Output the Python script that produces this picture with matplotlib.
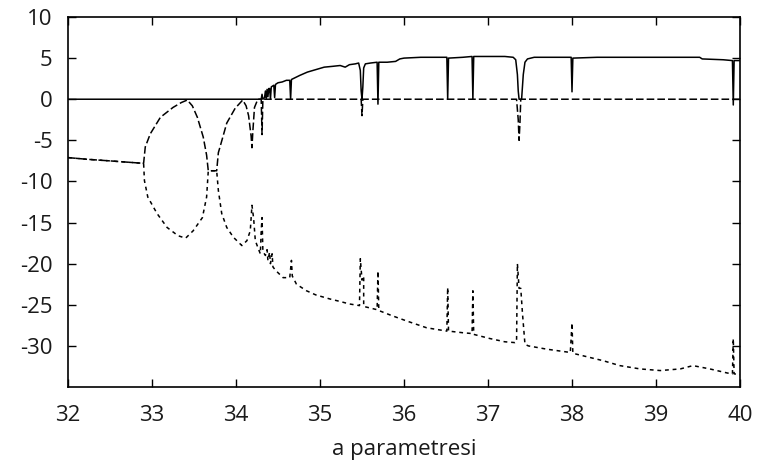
import matplotlib
matplotlib.use("Agg")
import matplotlib.pyplot as plt

plt.rcParams['font.family'] = ['Open Sans', 'DejaVu Sans']
plt.rcParams['axes.unicode_minus'] = False

# Lyapunov exponent 1 (solid)
s1_x = [32.0, 34.30, 34.31, 34.32, 34.34, 34.35, 34.36, 34.37, 34.38, 34.39, 34.40, 34.41, 34.42,
        34.45, 34.46, 34.47, 34.50, 34.55, 34.60, 34.64, 34.65, 34.66, 34.70, 34.76, 34.85, 34.95,
        35.05, 35.15, 35.24, 35.30, 35.35, 35.42, 35.46, 35.48, 35.49, 35.50, 35.51, 35.52, 35.54,
        35.60, 35.68, 35.69, 35.70, 35.80, 35.90, 35.95, 36.00, 36.20, 36.51, 36.52, 36.53, 36.70,
        36.81, 36.82, 36.83, 37.00, 37.20, 37.30, 37.33, 37.35, 37.36, 37.37, 37.40, 37.42, 37.44,
        37.47, 37.55, 37.80, 37.99, 38.00, 38.01, 38.30, 38.70, 39.00, 39.30, 39.52, 39.55, 39.80,
        39.91, 39.92, 39.93, 40.00]
s1_y = [0.0, 0.0, 0.6, 0.0, 0.2, 1.0, 0.1, 1.2, 0.3, 1.3, 1.3, 0.0, 1.5,
        1.7, 0.2, 1.8, 2.0, 2.1, 2.3, 2.3, 0.0, 2.4, 2.6, 2.9, 3.3, 3.6,
        3.9, 4.0, 4.1, 3.9, 4.2, 4.3, 4.4, 3.5, 1.0, 0.0, 1.5, 3.8, 4.3,
        4.4, 4.5, -0.6, 4.5, 4.5, 4.6, 4.9, 5.0, 5.1, 5.1, 0.0, 5.0, 5.1,
        5.2, 0.0, 5.2, 5.2, 5.2, 5.1, 4.8, 3.0, 1.0, 0.0, 0.0, 3.0, 4.5,
        4.9, 5.1, 5.1, 5.1, 0.9, 5.0, 5.1, 5.1, 5.1, 5.1, 5.1, 4.9, 4.8,
        4.7, -0.7, 4.7, 4.7]

# Lyapunov exponent 2 (dashed)
s2_x = [32.0, 32.22, 32.5, 32.9, 32.92, 32.98, 33.1, 33.25, 33.35, 33.42, 33.48, 33.54, 33.61,
        33.65, 33.67, 33.77, 33.79, 33.81, 33.89, 33.99, 34.08, 34.12, 34.15, 34.18, 34.19, 34.20,
        34.22, 34.26, 34.30, 34.31, 34.32, 35.49, 35.50, 35.51, 37.34, 37.36, 37.37, 37.38, 37.39,
        40.0]
s2_y = [-7.1, -7.3, -7.5, -7.8, -5.8, -4.2, -2.2, -1.0, -0.4, -0.1, -0.8, -2.2, -4.6,
        -6.8, -8.7, -8.7, -6.5, -5.8, -2.9, -1.1, -0.1, -0.8, -2.0, -4.5, -5.9, -4.0,
        -1.0, 0.0, 0.0, -4.3, 0.0, 0.0, -2.0, 0.0, 0.0, -2.5, -5.0, -3.0, 0.0,
        0.0]

# Lyapunov exponent 3 (dotted)
s3_x = [32.0, 32.22, 32.5, 32.9, 32.91, 32.95, 33.06, 33.18, 33.31, 33.40, 33.49, 33.60, 33.65,
        33.67, 33.77, 33.79, 33.83, 33.89, 33.97, 34.07, 34.13, 34.17, 34.19, 34.21, 34.23, 34.27,
        34.29, 34.30, 34.31, 34.32, 34.35, 34.37, 34.38, 34.40, 34.41, 34.43, 34.44, 34.47, 34.52,
        34.56, 34.64, 34.66, 34.67, 34.72, 34.84, 34.95, 35.12, 35.24, 35.35, 35.47, 35.48, 35.50,
        35.52, 35.52, 35.60, 35.68, 35.69, 35.70, 35.85, 36.04, 36.27, 36.51, 36.52, 36.53, 36.70,
        36.81, 36.82, 36.83, 37.02, 37.20, 37.32, 37.34, 37.35, 37.37, 37.39, 37.41, 37.44, 37.48,
        37.70, 37.98, 38.00, 38.01, 38.13, 38.37, 38.57, 38.81, 39.05, 39.29, 39.44, 39.64, 39.85,
        39.91, 39.92, 39.93, 40.0]
s3_y = [-7.1, -7.3, -7.5, -7.8, -9.9, -11.9, -13.9, -15.6, -16.6, -16.9, -16.0, -14.4, -11.9,
        -8.7, -8.7, -11.1, -13.9, -15.6, -16.8, -17.8, -17.2, -16.0, -12.9, -14.5, -17.2, -18.3,
        -18.8, -16.0, -14.4, -18.5, -19.0, -18.3, -19.6, -18.6, -20.0, -18.8, -20.4, -20.8, -21.3,
        -21.7, -21.7, -19.6, -21.5, -22.5, -23.3, -23.8, -24.3, -24.6, -24.9, -25.1, -19.4, -22.0,
        -21.5, -25.2, -25.4, -25.6, -20.9, -25.7, -26.3, -27.0, -27.8, -28.2, -22.9, -28.2, -28.4,
        -28.5, -23.3, -28.6, -29.1, -29.5, -29.6, -29.5, -20.0, -23.0, -23.0, -26.0, -29.8, -30.0,
        -30.4, -30.8, -27.2, -30.9, -31.2, -31.8, -32.4, -32.8, -33.0, -32.8, -32.4, -32.8, -33.3,
        -33.4, -29.1, -33.4, -33.5]

x_ticks = [32, 33, 34, 35, 36, 37, 38, 39, 40]
y_ticks = [10, 5, 0, -5, -10, -15, -20, -25, -30]
x_label = "a parametresi"

fig = plt.figure(figsize=(7.62, 4.72), dpi=100)
ax = fig.add_axes([68/762, 1 - 387/472, 672/762, 370/472])

ax.plot(s1_x, s1_y, color='black', lw=1.1, linestyle='-')
ax.plot(s2_x, s2_y, color='black', lw=1.1, linestyle=(0, (5, 2)))
ax.plot(s3_x, s3_y, color='black', lw=1.1, linestyle=(0, (2.5, 2.5)))

ax.set_xlim(32, 40)
ax.set_ylim(-35, 10)
ax.set_xticks(x_ticks)
ax.set_yticks(y_ticks)
ax.set_xticklabels([str(v) for v in x_ticks])
ax.set_yticklabels([str(v) for v in y_ticks])
ax.tick_params(direction='in', length=6, width=1, top=True, right=True,
               labelsize=16, color='black', labelcolor='#1a1a1a')
ax.tick_params(axis='y', pad=11)
ax.tick_params(axis='x', pad=13)
for s in ax.spines.values():
    s.set_linewidth(1.2)
ax.set_xlabel(x_label, fontsize=16, labelpad=9, color='#1a1a1a')

fig.savefig("out.png", dpi=100)
